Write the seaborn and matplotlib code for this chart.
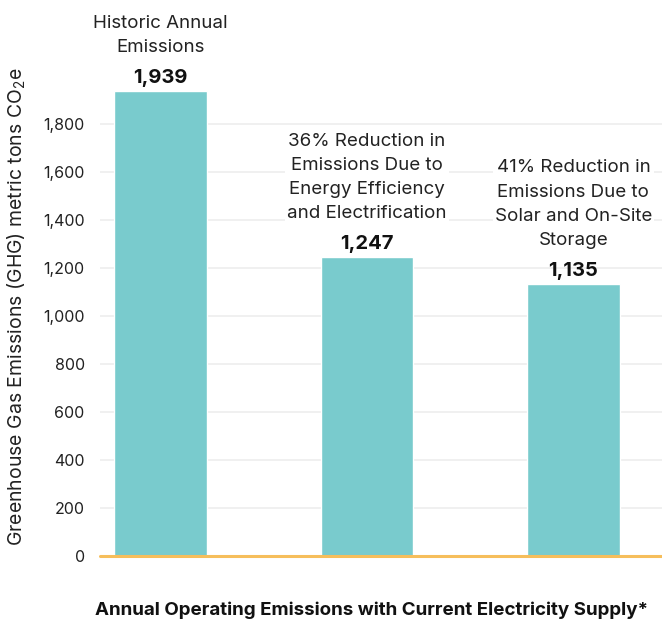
import matplotlib
matplotlib.use("Agg")
import matplotlib.pyplot as plt
import seaborn as sns
import pandas as pd

categories = [
    "Historic Annual\nEmissions",
    "36% Reduction in\nEmissions Due to\nEnergy Efficiency\nand Electrification",
    "41% Reduction in\nEmissions Due to\nSolar and On-Site\nStorage",
]
values = [1939, 1247, 1135]
value_labels = ["1,939", "1,247", "1,135"]
yticks = [0, 200, 400, 600, 800, 1000, 1200, 1400, 1600, 1800]
ytick_labels = ["0", "200", "400", "600", "800", "1,000", "1,200", "1,400", "1,600", "1,800"]
xlabel = "Annual Operating Emissions with Current Electricity Supply*"
ylabel = "Greenhouse Gas Emissions (GHG) metric tons CO$_2$e"

sns.set_style("white")
plt.rcParams["font.family"] = ["Inter", "DejaVu Sans"]
plt.rcParams["mathtext.fontset"] = "custom"
plt.rcParams["mathtext.rm"] = "Inter"
plt.rcParams["mathtext.it"] = "Inter"

df = pd.DataFrame({"cat": categories, "val": values})

fig = plt.figure(figsize=(6.62, 6.19), dpi=100)
ax = fig.add_axes([100 / 662, (619 - 556) / 619, 562 / 662, 556 / 619])

sns.barplot(data=df, x="cat", y="val", color="#79CBCD", width=0.45, saturation=1,
            ax=ax, zorder=2)

ax.set_xlim(-0.293, 2.429)
ax.set_ylim(0, 556 / 0.24)
ax.set_yticks(yticks)
ax.set_yticklabels(ytick_labels, fontsize=11.5, color="#222222")
ax.set_xticks([])
ax.set_xlabel("")
ax.set_ylabel(ylabel, fontsize=14, color="#222222")
ax.yaxis.set_label_coords(-72 / 562, 1 - 307 / 556, transform=ax.transAxes)
ax.tick_params(axis="y", length=0, pad=11)

for y in yticks[1:]:
    ax.axhline(y, color="#EEEEEE", lw=1.2, zorder=0)
ax.axhline(0, color="#F6BE5B", lw=2.2, zorder=4, clip_on=False)
for s in ax.spines.values():
    s.set_visible(False)

for i, (v, lab, cat) in enumerate(zip(values, value_labels, categories)):
    ax.annotate(lab, (i, v), xytext=(0, 2.5), textcoords="offset points",
                ha="center", va="bottom", fontsize=14.5, fontweight="bold",
                color="#111111", zorder=5)
    ax.annotate(cat, (i, v), xytext=(0, 25), textcoords="offset points",
                ha="center", va="bottom", fontsize=13.5, color="#222222",
                linespacing=1.55, zorder=5,
                bbox=dict(boxstyle="square,pad=0.1", fc="white", ec="none"))

fig.text(372 / 662, 1 - 610 / 619, xlabel, ha="center", va="center",
         fontsize=13.5, fontweight="bold", color="#111111")

fig.savefig("out.png", dpi=100)
